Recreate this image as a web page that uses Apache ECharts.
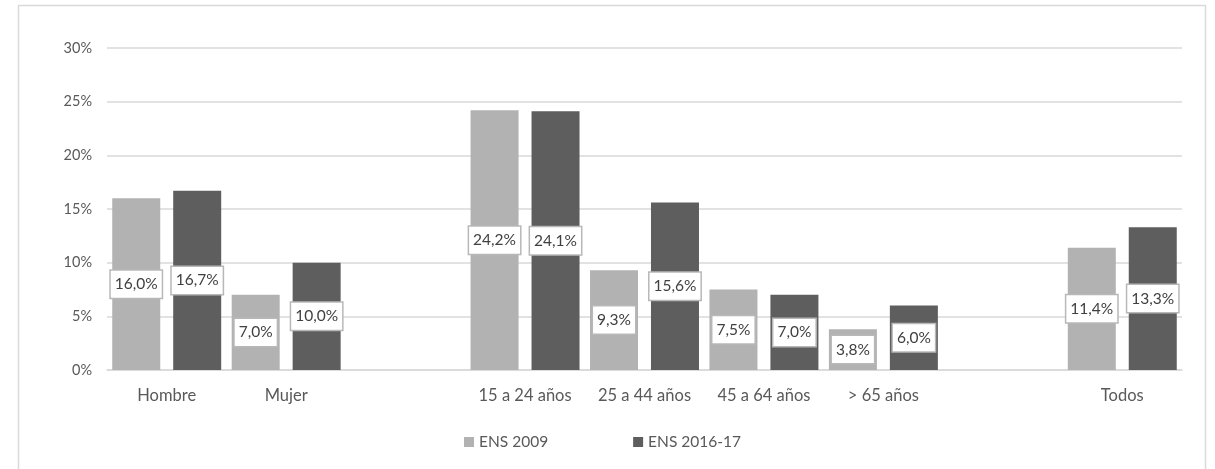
<!DOCTYPE html>
<html>
<head>
<meta charset="utf-8">
<script src="https://cdn.jsdelivr.net/npm/echarts@6/dist/echarts.min.js"></script>
<style>
  html, body { margin: 0; padding: 0; background: #ffffff; }
  #chart { width: 1215px; height: 469px; }
</style>
</head>
<body>
<div id="chart"></div>
<script>
// Grupos (las categorías vacías separan sexo, edad y total)
const categories = ['Hombre', 'Mujer', '', '15 a 24 años', '25 a 44 años', '45 a 64 años', '> 65 años', '', 'Todos'];
const ens2009 = [16.0, 7.0, null, 24.2, 9.3, 7.5, 3.8, null, 11.4];
const ens2016 = [16.7, 10.0, null, 24.1, 15.6, 7.0, 6.0, null, 13.3];
const seriesNames = ['ENS 2009', 'ENS 2016-17'];
const yTicks = { min: 0, max: 30, interval: 5 };

const FONT = 'Lato, "Open Sans", sans-serif';

function pct(v) {
  return v.toFixed(1).replace('.', ',') + '%';
}

const labelStyle = {
  show: true,
  position: 'inside',
  formatter: p => pct(p.value),
  color: '#404040',
  fontFamily: FONT,
  fontSize: 15.5,
  backgroundColor: '#ffffff',
  borderColor: '#b8b8b8',
  borderWidth: 1.5,
  padding: [6, 4, 5, 4]
};

const chart = echarts.init(document.getElementById('chart'), null, { renderer: 'canvas' });
chart.setOption({
  animation: false,
  backgroundColor: '#ffffff',
  graphic: [{
    type: 'rect',
    shape: { x: 18.5, y: 5.5, width: 1187, height: 480 },
    style: { fill: 'none', stroke: '#d9d9d9', lineWidth: 1.5 },
    silent: true
  }],
  grid: { left: 107, right: 33, top: 48, bottom: 99 },
  legend: {
    data: seriesNames,
    left: 459,
    top: 429,
    icon: 'rect',
    itemWidth: 10,
    itemHeight: 10,
    itemGap: 85,
    textStyle: { color: '#595959', fontFamily: FONT, fontSize: 15.5 }
  },
  xAxis: {
    type: 'category',
    data: categories,
    axisLine: { lineStyle: { color: '#d9d9d9', width: 1.5 } },
    axisTick: { show: false },
    axisLabel: { color: '#595959', fontFamily: FONT, fontSize: 16.5, margin: 17, interval: 0 }
  },
  yAxis: {
    type: 'value',
    min: yTicks.min,
    max: yTicks.max,
    interval: yTicks.interval,
    axisLine: { show: false },
    axisTick: { show: false },
    splitLine: { lineStyle: { color: '#d9d9d9', width: 1.5 } },
    axisLabel: { formatter: '{value}%', color: '#595959', fontFamily: FONT, fontSize: 14.5, margin: 15 }
  },
  series: [
    {
      name: seriesNames[0],
      type: 'bar',
      data: ens2009,
      barWidth: 48,
      barGap: '27%',
      itemStyle: { color: '#b2b2b2' },
      label: labelStyle
    },
    {
      name: seriesNames[1],
      type: 'bar',
      data: ens2016,
      barWidth: 48,
      barGap: '27%',
      itemStyle: { color: '#5e5e5e' },
      label: labelStyle
    }
  ]
});
</script>
</body>
</html>
